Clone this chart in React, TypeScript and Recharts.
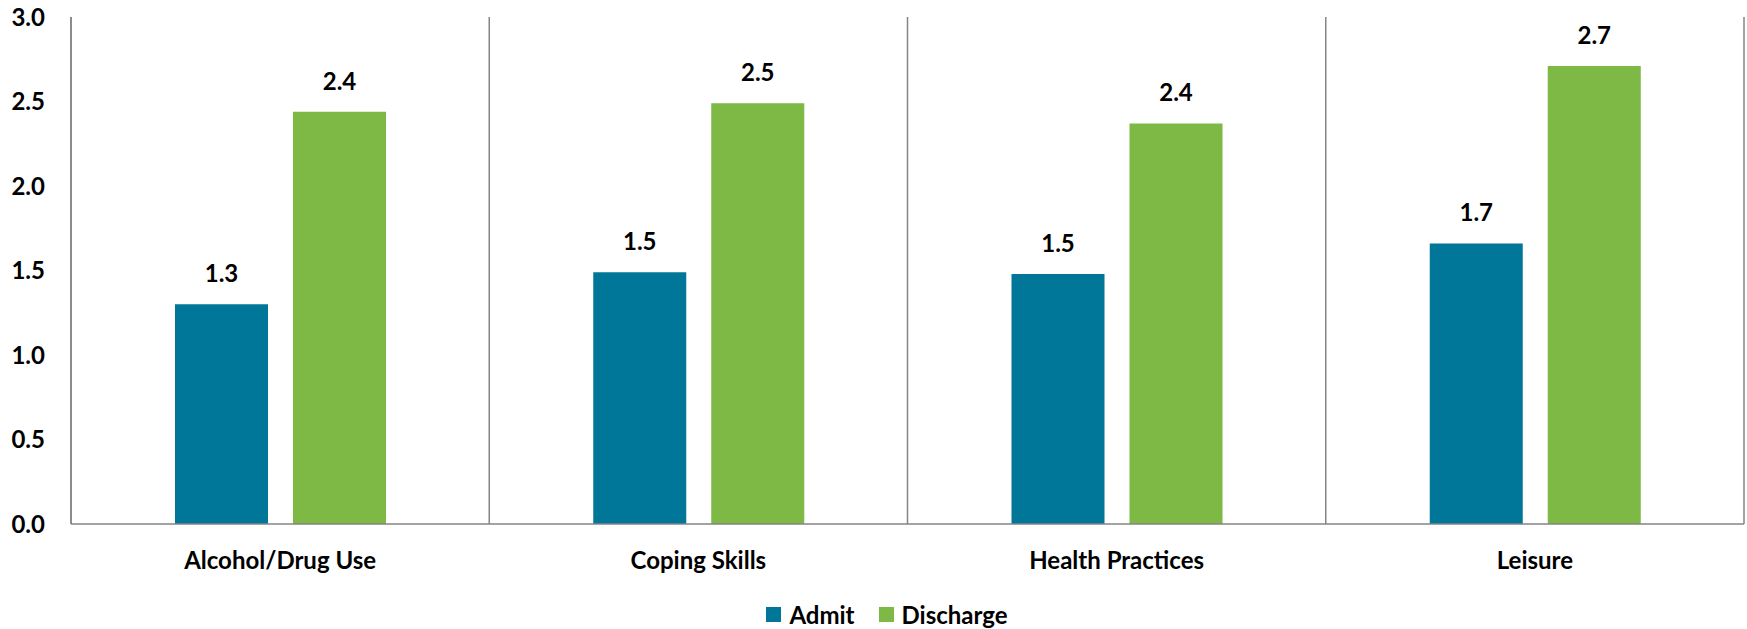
import React from "react";
import {
  BarChart,
  Bar,
  XAxis,
  YAxis,
  CartesianGrid,
  Legend,
  LabelList,
} from "recharts";

const categories = ["Alcohol/Drug Use", "Coping Skills", "Health Practices", "Leisure"];
const admitValues = [1.3, 1.49, 1.48, 1.66];
const dischargeValues = [2.44, 2.49, 2.37, 2.71];
const yTicks = [0, 0.5, 1, 1.5, 2, 2.5, 3];
const separators = [0, 1, 2, 3, 4];

const ADMIT = "#007698";
const DISCHARGE = "#7db944";
const LINE = "#858585";
const FONT = "Lato, 'Open Sans', sans-serif";

const chartData = categories.map((name, i) => ({
  name,
  admit: admitValues[i],
  discharge: dischargeValues[i],
}));

const fmt = (v: number) => Number(v).toFixed(1);

const tickStyle = { fill: "#000", fontSize: 24, fontWeight: 700, fontFamily: FONT };

const LegendView = () => (
  <div
    style={{
      display: "flex",
      justifyContent: "center",
      alignItems: "center",
      height: 30,
      paddingLeft: 30,
      fontFamily: FONT,
      fontSize: 24,
      fontWeight: 700,
      color: "#000",
    }}
  >
    <span style={{ width: 15, height: 15, background: ADMIT, marginRight: 8 }} />
    <span style={{ marginRight: 24 }}>Admit</span>
    <span style={{ width: 15, height: 15, background: DISCHARGE, marginRight: 8 }} />
    <span>Discharge</span>
  </div>
);

// vertical separators at the category band edges
const bandEdges = ({ offset }: any) =>
  separators.map((i) => offset.left + (i * offset.width) / categories.length);

const App = () => {
  return (
    <div style={{ position: "absolute", left: 0, top: 0 }}>
      <BarChart
        width={1747}
        height={629}
        data={chartData}
        margin={{ top: 17, right: 3, left: 0, bottom: 0 }}
        barSize={93}
        barGap={25}
        style={{ fontFamily: FONT }}
      >
        <CartesianGrid
          horizontal={false}
          stroke={LINE}
          strokeWidth={1.5}
          verticalCoordinatesGenerator={bandEdges}
        />
        <XAxis
          dataKey="name"
          height={75}
          tickLine={false}
          tickSize={0}
          tickMargin={28}
          axisLine={{ stroke: LINE, strokeWidth: 1.5 }}
          tick={tickStyle}
          interval={0}
        />
        <YAxis
          width={71}
          domain={[0, 3]}
          ticks={yTicks}
          tickFormatter={fmt}
          tickLine={false}
          tickSize={0}
          tickMargin={26}
          axisLine={{ stroke: LINE, strokeWidth: 1.5 }}
          tick={tickStyle}
        />
        <Legend verticalAlign="bottom" content={<LegendView />} />
        <Bar dataKey="admit" name="Admit" fill={ADMIT} isAnimationActive={false}>
          <LabelList
            dataKey="admit"
            position="top"
            offset={22}
            formatter={(v: any) => fmt(v)}
            style={tickStyle}
          />
        </Bar>
        <Bar dataKey="discharge" name="Discharge" fill={DISCHARGE} isAnimationActive={false}>
          <LabelList
            dataKey="discharge"
            position="top"
            offset={22}
            formatter={(v: any) => fmt(v)}
            style={tickStyle}
          />
        </Bar>
      </BarChart>
    </div>
  );
};

export default App;
